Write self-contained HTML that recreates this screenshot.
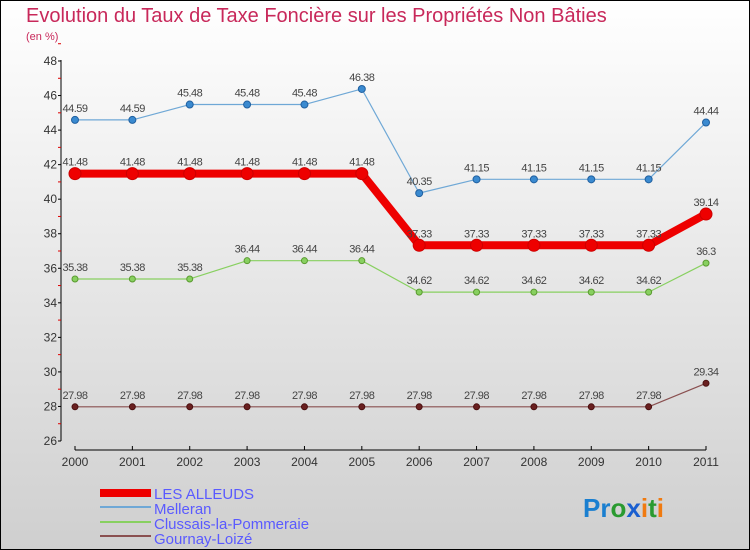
<!DOCTYPE html>
<html><head><meta charset="utf-8"><style>
body{margin:0}
svg{display:block;font-family:"Liberation Sans",sans-serif}
</style></head><body>
<svg id="c" width="750" height="550" xmlns="http://www.w3.org/2000/svg">
<defs><linearGradient id="bg" x1="0" y1="0" x2="0" y2="1"><stop offset="0" stop-color="#ffffff"/><stop offset="1" stop-color="#cfcfcf"/></linearGradient></defs>
<rect x="0.5" y="0.5" width="749" height="549" fill="url(#bg)" stroke="#000"/>
<text x="26" y="22" font-size="20" fill="#c8285a">Evolution du Taux de Taxe Foncière sur les Propriétés Non Bâties</text>
<text x="26" y="40" font-size="11" fill="#c8285a">(en %)</text>
<g id="axes"></g><g id="series"></g>
<g>
<rect x="100" y="489" width="51" height="8" fill="#e00"/>
<text x="154" y="499" font-size="15" fill="#5a5aff">LES ALLEUDS</text>
<rect x="100" y="506" width="51" height="2" fill="#6fa8d6"/>
<text x="154" y="514" font-size="15" fill="#5a5aff">Melleran</text>
<rect x="100" y="521" width="51" height="2" fill="#88d060"/>
<text x="154" y="529" font-size="15" fill="#5a5aff">Clussais-la-Pommeraie</text>
<rect x="100" y="535" width="51" height="2" fill="#8a5050"/>
<text x="154" y="544" font-size="15" fill="#5a5aff">Gournay-Loizé</text>
</g>
<text x="583" y="517" font-size="26" font-weight="bold"><tspan fill="#1a7fd0">Pr</tspan><tspan fill="#2a9a30">o</tspan><tspan fill="#1a5fd0">x</tspan><tspan fill="#f07a10">i</tspan><tspan fill="#2a9a30">t</tspan><tspan fill="#f07a10">i</tspan></text>
</svg>
<script>
const years=["2000","2001","2002","2003","2004","2005","2006","2007","2008","2009","2010","2011"];
const yTicks=[26,28,30,32,34,36,38,40,42,44,46,48];
const alleuds=[41.48,41.48,41.48,41.48,41.48,41.48,37.33,37.33,37.33,37.33,37.33,39.14];
const melleran=[44.59,44.59,45.48,45.48,45.48,46.38,40.35,41.15,41.15,41.15,41.15,44.44];
const clussais=[35.38,35.38,35.38,36.44,36.44,36.44,34.62,34.62,34.62,34.62,34.62,36.3];
const gournay=[27.98,27.98,27.98,27.98,27.98,27.98,27.98,27.98,27.98,27.98,27.98,29.34];
const NS="http://www.w3.org/2000/svg";
const xs=i=>75+i*(706-75)/11;
const ys=v=>441-(v-26)*(441-61)/22;
function mk(t,a,p){const e=document.createElementNS(NS,t);for(const k in a)e.setAttribute(k,a[k]);p.appendChild(e);return e;}
const ax=document.getElementById('axes');
let l=mk('line',{x1:61,y1:60,x2:61,y2:441,stroke:'#000'},ax);


yTicks.forEach(v=>{mk('line',{x1:58,y1:ys(v),x2:61,y2:ys(v),stroke:'#000'},ax);
mk('line',{x1:58,y1:ys(v+1),x2:61,y2:ys(v+1),stroke:'#d00'},ax);
const t=mk('text',{x:57,y:ys(v)+4,'font-size':12,fill:'#333','text-anchor':'end'},ax);t.textContent=v;

});
l=mk('line',{x1:75,y1:450,x2:706,y2:450,stroke:'#000'},ax);


years.forEach((y,i)=>{mk('line',{x1:xs(i),y1:446,x2:xs(i),y2:450,stroke:'#000'},ax);
const t=mk('text',{x:xs(i),y:466,'font-size':12,fill:'#333','text-anchor':'middle'},ax);t.textContent=y;

});
const sg=document.getElementById('series');
function series(d,name,col,w,r,fill,stroke){
const g=mk('g',{},sg);


const p=mk('polyline',{points:d.map((v,i)=>xs(i)+','+ys(v)).join(' '),fill:'none',stroke:col,'stroke-width':w,'stroke-linejoin':'round'},g);


d.forEach((v,i)=>{const c=mk('circle',{cx:xs(i),cy:ys(v),r:r,fill:fill,stroke:stroke,'stroke-width':1},g);


const t=mk('text',{x:xs(i),y:ys(v)-8,'font-size':11,fill:'#444','text-anchor':'middle','letter-spacing':'-0.5'},g);t.textContent=v;

});}
series(gournay,'gournay','#8a5050',1.2,3,'#6a2020','#4a1010');
series(clussais,'clussais','#88d060',1.2,3,'#88d060','#5a9a30');
series(melleran,'melleran','#6fa8d6',1.2,3.5,'#3a8ad0','#2060a0');
series(alleuds,'les-alleuds','#ee0000',8,6,'#ee0000','#cc0000');
</script>
</body></html>
